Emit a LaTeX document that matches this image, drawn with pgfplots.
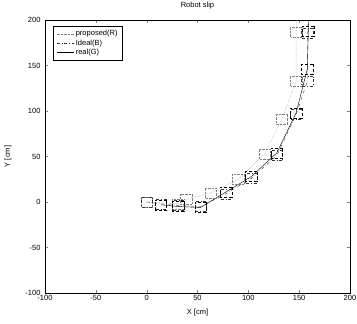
\documentclass[border=0pt]{standalone}
\usepackage{pgfplots}
\pgfplotsset{compat=1.18}
\usepackage{fontspec}
\setmainfont{Liberation Sans}
\begin{document}
\begin{tikzpicture}
\begin{axis}[
  scale only axis,
  width=305pt, height=273pt,
  xmin=-100, xmax=200, ymin=-100, ymax=200,
  xtick={-100,-50,0,50,100,150,200},
  ytick={-100,-50,0,50,100,150,200},
  tick align=inside,
  tick pos=both,
  major tick length=3pt,
  tick label style={font=\fontsize{7.5}{8}\selectfont},
  /pgf/number format/assume math mode=true,
  xticklabel style={yshift=1pt},
  yticklabel style={xshift=-1pt},
  xlabel={X [cm]}, ylabel={Y [cm]},
  every axis x label/.style={at={(axis description cs:0.5,0)}, anchor=center, yshift=-20pt, font=\fontsize{7.5}{9}\selectfont},
  every axis y label/.style={at={(axis description cs:0,0.5)}, anchor=center, rotate=90, yshift=37pt, font=\fontsize{7.5}{9}\selectfont},
  title={Robot slip},
  every axis title/.style={at={(axis description cs:0.5,1)}, anchor=center, yshift=14pt, font=\fontsize{7.5}{9}\selectfont},
  axis line style={line width=0.8pt},
  legend style={font=\fontsize{7.5}{9}\selectfont, draw=black, line width=0.8pt, inner xsep=3pt, inner ysep=2pt, row sep=-1.5pt, at={(0.026,0.978)}, anchor=north west},
  legend cell align=left,
  legend image code/.code={\draw[#1, mark=none, line width=0.5pt] (0pt,0pt) -- (17pt,0pt);},
  mark size=5pt,
]
\addplot[gray, densely dotted, thin, mark=square, mark options={xscale=1.15}, mark indices={1,2,3,4,5,6,7,8,9}]
  coordinates {(0,0) (31,-2) (39,3) (63,10) (90,25) (116,53) (133,91) (147,133) (147,187) (148,210)};
\addlegendentry{proposed(R)}
\addplot[black!80, dashdotted, thin, mark=square, mark options={xscale=1.15}, mark indices={1,2,3,4,5,6,7,8,9,10}]
  coordinates {(0,0) (14,-2) (31,-4) (53,-5) (78,9) (103,26) (128,51) (147,96) (158,133) (158,186) (160,210)};
\addlegendentry{Ideal(B)}
\addplot[black, solid, thin, mark=square, mark options={densely dashed, xscale=1.15}, mark indices={1,2,3,4,5,6,7,8,9}]
  coordinates {(14,-3) (31,-5) (53,-6) (78,11) (103,28) (128,54) (147,98) (158,146) (159,188) (160,210)};
\addlegendentry{real(G)}
\end{axis}
\pgfresetboundingbox
\path[use as bounding box] ([xshift=-45pt,yshift=-31pt]current axis.south west) rectangle ([xshift=7pt,yshift=20pt]current axis.north east);
\end{tikzpicture}
\end{document}
